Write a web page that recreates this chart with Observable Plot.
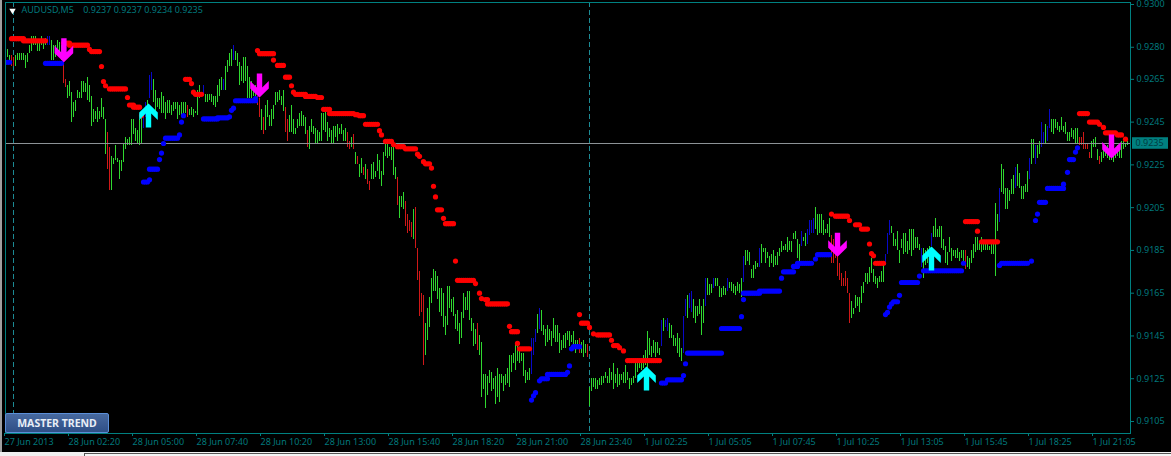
<!DOCTYPE html>
<html><head><meta charset="utf-8">
<script src="https://cdn.jsdelivr.net/npm/d3@7"></script>
<script src="https://cdn.jsdelivr.net/npm/@observablehq/plot@0.6"></script>
<style>
html,body{margin:0;padding:0;background:#000;overflow:hidden}
#wrap{position:relative;width:1171px;height:456px;background:#000;overflow:hidden}
#wrap svg{position:absolute;left:0;top:0;background:#000}
#edge{position:absolute;left:0;top:0;width:2px;height:456px;background:#a0a0a0}
#foot{position:absolute;left:0;top:452px;width:1171px;height:4px;background:#f0f0f0}
#box{position:absolute;left:84px;top:453px;width:1087px;height:3px;background:#f4f4f4;border-left:1px solid #555;border-top:1px solid #555}
#btn{position:absolute;left:5px;top:413px;width:102px;height:18px;border:1px solid #5b8fd8;border-radius:2px;background:linear-gradient(#47699f,#2f4f86);color:#e8eef6;font:bold 10.5px/18px "Noto Sans",sans-serif;text-align:center}
</style></head><body>
<div id="wrap"><div id="edge"></div><div id="foot"></div><div id="box"></div></div>
<script>
// Prices are in pips: 9235 means 0.9235. Each row below holds ten 5-minute bars [high, low].
const hiLo = [
[9282,9277],[9279,9275],[9276,9272],[9276,9271],[9275,9271],[9276,9271],[9277,9274],[9277,9274],[9277,9274],[9277,9274],
[9276,9270],[9277,9273],[9281,9277],[9285,9278],[9285,9281],[9285,9281],[9282,9278],[9282,9278],[9285,9281],[9282,9279],
[9284,9281],[9285,9281],[9285,9281],[9283,9274],[9281,9274],[9281,9275],[9283,9278],[9282,9276],[9281,9274],[9275,9263],
[9265,9261],[9262,9256],[9264,9257],[9259,9245],[9254,9247],[9255,9250],[9260,9256],[9259,9256],[9264,9256],[9264,9259],
[9263,9259],[9266,9255],[9262,9254],[9257,9243],[9251,9245],[9250,9246],[9252,9245],[9250,9246],[9256,9247],[9252,9246],
[9246,9230],[9240,9223],[9233,9213],[9229,9213],[9228,9225],[9234,9227],[9228,9226],[9227,9218],[9227,9222],[9235,9226],
[9238,9232],[9237,9234],[9238,9234],[9246,9234],[9246,9239],[9242,9236],[9241,9235],[9246,9234],[9247,9235],[9249,9242],
[9254,9247],[9255,9249],[9267,9256],[9268,9260],[9265,9254],[9260,9247],[9256,9252],[9256,9251],[9259,9249],[9257,9249],
[9254,9246],[9255,9249],[9255,9249],[9253,9248],[9254,9250],[9254,9251],[9254,9246],[9253,9248],[9254,9248],[9254,9249],
[9254,9249],[9253,9247],[9251,9248],[9252,9248],[9251,9247],[9250,9249],[9260,9248],[9262,9256],[9259,9257],[9262,9257],
[9258,9254],[9258,9254],[9258,9255],[9258,9254],[9257,9253],[9257,9252],[9262,9254],[9265,9257],[9266,9260],[9265,9260],
[9271,9260],[9274,9268],[9277,9271],[9279,9271],[9281,9274],[9278,9274],[9277,9271],[9273,9262],[9271,9264],[9275,9263],
[9275,9264],[9271,9256],[9266,9256],[9264,9256],[9262,9257],[9262,9257],[9257,9253],[9256,9247],[9251,9241],[9247,9239],
[9253,9241],[9255,9247],[9248,9243],[9251,9243],[9253,9246],[9259,9253],[9259,9254],[9260,9255],[9257,9253],[9260,9250],
[9252,9240],[9246,9236],[9248,9240],[9253,9240],[9246,9239],[9242,9239],[9246,9242],[9249,9243],[9250,9243],[9248,9243],
[9247,9239],[9241,9233],[9243,9232],[9246,9240],[9243,9239],[9242,9235],[9241,9235],[9240,9236],[9249,9236],[9249,9241],
[9250,9240],[9245,9236],[9242,9238],[9241,9235],[9243,9235],[9243,9238],[9244,9236],[9242,9239],[9244,9239],[9241,9236],
[9242,9236],[9240,9233],[9236,9232],[9238,9233],[9239,9232],[9231,9225],[9229,9225],[9225,9219],[9228,9221],[9224,9220],
[9225,9218],[9223,9216],[9217,9213],[9225,9218],[9226,9218],[9222,9219],[9230,9222],[9227,9218],[9222,9215],[9231,9220],
[9235,9229],[9235,9228],[9233,9229],[9233,9227],[9233,9220],[9224,9218],[9219,9206],[9210,9200],[9210,9205],[9212,9204],
[9208,9196],[9202,9193],[9199,9194],[9198,9191],[9204,9190],[9205,9186],[9186,9171],[9175,9154],[9165,9156],[9164,9131],
[9151,9136],[9158,9143],[9163,9149],[9172,9160],[9176,9166],[9175,9166],[9173,9162],[9167,9156],[9167,9154],[9165,9149],
[9154,9145],[9168,9150],[9168,9158],[9162,9156],[9163,9154],[9155,9148],[9157,9147],[9151,9141],[9156,9144],[9165,9153],
[9163,9157],[9166,9157],[9166,9152],[9153,9147],[9151,9140],[9148,9141],[9151,9138],[9145,9136],[9142,9116],[9127,9120],
[9127,9111],[9126,9117],[9129,9123],[9128,9119],[9125,9120],[9126,9113],[9130,9116],[9127,9114],[9127,9123],[9126,9119],
[9127,9122],[9130,9123],[9136,9121],[9136,9128],[9137,9132],[9141,9129],[9142,9133],[9138,9132],[9137,9133],[9137,9126],
[9129,9123],[9128,9124],[9130,9124],[9144,9127],[9144,9136],[9148,9142],[9155,9146],[9158,9148],[9157,9147],[9150,9145],
[9148,9140],[9150,9142],[9148,9143],[9147,9140],[9153,9144],[9150,9142],[9150,9142],[9146,9137],[9143,9138],[9145,9139],
[9146,9139],[9147,9143],[9147,9140],[9145,9142],[9147,9141],[9143,9137],[9143,9139],[9144,9137],[9142,9137],[9143,9135],
[9141,9137],[9141,9135],[9121,9112],[9125,9119],[9125,9121],[9125,9120],[9124,9120],[9125,9122],[9126,9122],[9126,9123],
[9128,9125],[9126,9123],[9130,9123],[9128,9124],[9132,9120],[9127,9123],[9130,9121],[9127,9122],[9127,9124],[9128,9123],
[9131,9123],[9128,9124],[9125,9120],[9125,9122],[9126,9123],[9132,9125],[9132,9128],[9134,9130],[9134,9129],[9136,9130],
[9138,9131],[9147,9130],[9144,9136],[9140,9135],[9143,9137],[9142,9135],[9142,9137],[9139,9136],[9152,9140],[9153,9147],
[9152,9149],[9153,9147],[9151,9144],[9150,9144],[9145,9140],[9144,9140],[9146,9137],[9144,9135],[9139,9133],[9154,9137],
[9162,9154],[9164,9153],[9165,9158],[9166,9156],[9162,9153],[9159,9151],[9159,9154],[9162,9155],[9159,9145],[9162,9151],
[9172,9159],[9172,9164],[9169,9164],[9169,9165],[9172,9167],[9172,9168],[9172,9168],[9168,9163],[9167,9163],[9168,9164],
[9167,9164],[9172,9166],[9170,9167],[9170,9166],[9169,9165],[9168,9164],[9170,9166],[9169,9165],[9172,9163],[9182,9170],
[9185,9178],[9185,9180],[9184,9178],[9176,9172],[9178,9172],[9180,9176],[9179,9177],[9186,9177],[9188,9179],[9186,9184],
[9186,9179],[9184,9181],[9182,9177],[9183,9179],[9185,9177],[9182,9178],[9184,9178],[9186,9182],[9189,9184],[9187,9185],
[9188,9185],[9191,9184],[9189,9185],[9189,9184],[9193,9190],[9194,9190],[9190,9181],[9188,9180],[9194,9187],[9191,9189],
[9193,9187],[9195,9188],[9199,9192],[9199,9193],[9200,9193],[9205,9195],[9202,9192],[9202,9193],[9202,9193],[9199,9192],
[9195,9193],[9197,9193],[9200,9191],[9192,9179],[9190,9179],[9187,9181],[9183,9173],[9179,9171],[9174,9168],[9172,9168],
[9175,9168],[9172,9165],[9165,9151],[9161,9153],[9158,9155],[9164,9158],[9163,9159],[9163,9156],[9168,9160],[9170,9165],
[9174,9170],[9174,9169],[9177,9170],[9181,9174],[9176,9170],[9173,9169],[9172,9167],[9173,9170],[9175,9170],[9178,9170],
[9183,9178],[9193,9183],[9199,9192],[9196,9193],[9193,9187],[9190,9187],[9194,9185],[9185,9179],[9190,9186],[9193,9183],
[9193,9184],[9189,9183],[9195,9185],[9195,9182],[9195,9185],[9191,9186],[9191,9186],[9188,9185],[9186,9177],[9186,9172],
[9185,9178],[9186,9179],[9187,9181],[9193,9187],[9196,9191],[9200,9191],[9195,9191],[9196,9191],[9196,9186],[9190,9185],
[9187,9179],[9184,9178],[9191,9184],[9186,9180],[9185,9182],[9185,9181],[9186,9181],[9184,9180],[9185,9181],[9185,9180],
[9185,9176],[9182,9177],[9181,9176],[9185,9179],[9188,9181],[9191,9184],[9191,9185],[9189,9185],[9191,9184],[9188,9185],
[9188,9185],[9188,9185],[9187,9185],[9188,9183],[9188,9183],[9207,9173],[9202,9194],[9214,9198],[9225,9212],[9223,9211],
[9214,9204],[9214,9204],[9213,9208],[9218,9211],[9220,9211],[9224,9214],[9225,9215],[9221,9214],[9215,9209],[9215,9209],
[9216,9212],[9222,9212],[9228,9218],[9237,9225],[9237,9228],[9234,9225],[9234,9228],[9236,9230],[9245,9233],[9240,9235],
[9244,9235],[9243,9236],[9251,9242],[9246,9240],[9246,9239],[9246,9242],[9245,9241],[9243,9240],[9247,9241],[9243,9240],
[9245,9239],[9240,9236],[9240,9236],[9242,9238],[9241,9237],[9242,9235],[9242,9235],[9238,9234],[9238,9234],[9240,9232],
[9235,9232],[9235,9232],[9231,9228],[9236,9228],[9237,9233],[9238,9233],[9232,9227],[9229,9225],[9231,9226],[9233,9228],
[9234,9229],[9234,9228],[9232,9227],[9232,9227],[9230,9226],[9232,9228],[9234,9229],[9235,9228],[9236,9228],[9236,9232],[9235,9233],[9236,9234]
];
const redBars = [3,4,29,30,51,52,91,126,127,129,140,141,151,171,172,174,176,179,181,182,196,200,201,202,203,205,206,207,208,209,236,287,291,413,414,415,416,417,418,419,420,421,422,480,537,538,539,540,541,542,547];
const blueBars = [21,22,69,70,72,73,99,109,114,263,264,265,267,328,330,331,339,340,342,343,350,354,361,369,377,398,401,402,403,404,440,441,442,458,463,497,505,512,515,518,519,521,522];
// Indicator levels: [first bar, last bar, price]
const redLevels = [[3,9,9284],[9,20,9283],[29,32,9282],[32,41,9281],[42,42,9279],[43,47,9278],[48,48,9271],[49,49,9264],[50,50,9262],[52,60,9260.5],[61,61,9256.5],[62,64,9253],[64,67,9252],[68,68,9248],
[90,92,9265],[93,93,9263],[94,94,9259],[95,98,9258],[126,126,9278.5],[127,134,9277],[134,134,9274],[136,139,9271.5],[140,142,9266],[143,143,9262],[144,144,9259],[145,150,9258],[150,155,9257],[156,158,9256.5],[159,162,9251],[162,174,9249],[175,176,9248.5],[177,179,9248],[180,180,9244],[181,186,9244],[187,187,9241],[188,188,9239],[190,193,9236],[194,194,9234.5],[196,199,9233.5],[200,205,9232.5],[206,206,9230],[207,207,9229],[209,209,9226.5],[210,212,9225.5],[213,213,9223.5],[214,214,9215],[215,215,9210],[216,218,9204],[219,219,9200],[220,224,9197.5],[225,225,9180],[226,234,9171],[235,235,9169.5],[237,237,9165],[238,238,9162.5],[240,241,9162],[241,251,9160],[252,252,9149.5],[253,256,9147],[256,256,9141.5],[257,262,9139],
[287,287,9155],[288,291,9151],[292,292,9149],[294,294,9146],[296,302,9145.5],[303,303,9143],[304,306,9140.5],[307,307,9139.5],[309,309,9138],[311,327,9133.5],
[413,413,9202],[415,421,9201],[422,422,9199],[425,427,9197],[428,431,9195],[432,432,9188],[433,433,9183.5],[434,434,9182.5],[435,439,9179],[480,486,9198.5],[486,486,9194],[488,496,9189],[537,541,9249],[542,546,9245],[547,547,9244],[549,549,9242.5],[550,555,9240],[556,558,9239],[560,560,9237]];
const blueLevels = [[0,2,9273],[20,28,9272.5],[69,71,9217],[72,72,9218],[72,76,9223],[77,77,9227.5],[78,78,9230.5],[79,79,9235],[80,86,9237.5],[87,87,9239],[88,88,9245],[89,89,9248],[99,106,9246.5],[106,111,9247],[112,112,9247.5],[113,113,9250.5],[114,114,9251.5],[115,125,9255],[125,125,9256],
[263,263,9115],[264,264,9117],[265,265,9118.5],[267,267,9124],[268,271,9125],[271,280,9127],[281,281,9128],[282,282,9131],[283,283,9139],[284,287,9140],[328,330,9123],[331,338,9124.5],[339,339,9126.5],[340,340,9132],[341,358,9137],[358,367,9148.5],[368,368,9154],[369,369,9162],[369,377,9165],[377,387,9166],[388,388,9172],[389,394,9175],[394,396,9177.5],[396,403,9179],[405,405,9181],[406,412,9183],
[440,440,9155],[441,441,9156],[442,442,9158.5],[443,443,9160],[444,446,9161],[447,447,9164],[448,456,9170],[457,457,9173],[459,478,9175.5],[479,479,9179],[497,497,9178],[498,511,9179],[513,513,9180],[515,515,9199],[516,516,9202],[517,520,9207.5],[521,529,9214],[529,529,9216],[531,531,9221.5],[532,534,9227.5],[535,535,9231],[536,536,9233]];
const sellArrows = [[29.2,9273],[127,9256.5],[416,9182],[553,9228]];
const buyArrows = [[71.5,9253.7],[320.5,9130.7],[463,9186.8]];
const separators = [4,292];
const lastPrice = 9235;
const priceTicks = [9300,9280,9265,9245,9225,9205,9185,9165,9145,9125,9105];
const timeTicks = [0,32,64,96,128,160,192,224,256,288,320,352,384,416,448,480,512,544];
const timeLabels = ["27 Jun 2013","28 Jun 02:20","28 Jun 05:00","28 Jun 07:40","28 Jun 10:20","28 Jun 13:00","28 Jun 15:40","28 Jun 18:20","28 Jun 21:00","28 Jun 23:40","1 Jul 02:25","1 Jul 05:05","1 Jul 07:45","1 Jul 10:25","1 Jul 13:05","1 Jul 15:45","1 Jul 18:25","1 Jul 21:05"];
const chartTitle = "AUDUSD,M5\u00a0\u00a0\u00a0\u00a00.9237 0.9237 0.9234 0.9235";
const buttonLabel = "MASTER TREND";

const TEAL = "#008080", TEXT = "#00787c", FONT = "'Noto Sans', sans-serif";
const redSet = new Set(redBars), blueSet = new Set(blueBars);
const bars = hiLo.map(([high, low], i) => ({i, high, low, tone: redSet.has(i) ? "#d01818" : blueSet.has(i) ? "#0808c8" : "#2fd82f"}));
const expand = levels => levels.flatMap(([a, b, price]) => d3.range(a, b + 1).map(i => ({i, price})));

// Chevron arrows with the tip on the data point
const downArrow = {draw(c){const p=[[0,0],[-9.3,-9],[-9.3,-16.5],[-2.7,-10],[-2.7,-24],[2.7,-24],[2.7,-10],[9.3,-16.5],[9.3,-9]];
  p.forEach(([x,y],k)=>k?c.lineTo(x,y):c.moveTo(x,y));c.closePath();}};
const upArrow = {draw(c){const p=[[0,0],[-9.3,9],[-9.3,16.5],[-2.7,10],[-2.7,24],[2.7,24],[2.7,10],[9.3,16.5],[9.3,9]];
  p.forEach(([x,y],k)=>k?c.lineTo(x,y):c.moveTo(x,y));c.closePath();}};

const chart = Plot.plot({
  width: 1171, height: 456,
  marginLeft: 5, marginRight: 41, marginTop: 2, marginBottom: 23,
  style: {background: "#000", fontFamily: FONT, fontSize: "9px", color: TEXT},
  x: {type: "linear", domain: [0, 561], range: [5, 1127]},
  y: {type: "linear", domain: [9105, 9300], range: [421, 4]},
  marks: [
    Plot.ruleX(separators, {x: d => d, stroke: "#1c8a94", strokeDasharray: "5,3", strokeWidth: 1}),
    Plot.ruleX(bars, {x: "i", y1: "low", y2: "high", stroke: "tone", strokeWidth: 1, shapeRendering: "crispEdges"}),
    Plot.ruleY([lastPrice], {y: d => d, stroke: "#8c9296", strokeWidth: 1}),
    Plot.dot(expand(redLevels), {x: "i", y: "price", r: 2.6, fill: "#ff0000", clip: true}),
    Plot.dot(expand(blueLevels), {x: "i", y: "price", r: 2.6, fill: "#0000ff", clip: true}),
    Plot.dot(sellArrows, {x: d => d[0], y: d => d[1], symbol: downArrow, fill: "#ff00ff"}),
    Plot.dot(buyArrows, {x: d => d[0], y: d => d[1], symbol: upArrow, fill: "#00ffff"}),
    Plot.frame({stroke: TEAL, strokeWidth: 1}),
    Plot.axisY(priceTicks, {anchor: "right", tickSize: 3, tickPadding: 3, stroke: TEAL, fill: TEXT, label: null, tickFormat: d => (d / 10000).toFixed(4), fontSize: 9}),
    Plot.axisX(timeTicks, {anchor: "bottom", tickSize: 3, tickPadding: 2, stroke: TEAL, fill: TEXT, label: null, textAnchor: "start", dx: -1, tickFormat: d => timeLabels[timeTicks.indexOf(d)], fontSize: 9}),
    Plot.rect([lastPrice], {x1: () => 563.5, x2: () => 581.5, y1: d => d + 2.7, y2: d => d - 2.7, fill: "#008080"}),
    Plot.text([lastPrice], {x: () => 565, y: d => d, text: d => (d / 10000).toFixed(4), textAnchor: "start", fill: "#003c40", fontSize: 9}),
    Plot.text([chartTitle], {frameAnchor: "top-left", dx: 16, dy: 4, text: d => d, textAnchor: "start", fill: TEXT, fontSize: 9}),
    Plot.dot([0], {frameAnchor: "top-left", dx: 7, dy: 8, symbol: "triangle", rotate: 180, r: 2.4, fill: "#ffffff"})
  ]
});
const wrap = document.getElementById("wrap");
wrap.insertBefore(chart, wrap.firstChild);
const btn = document.createElement("div");
btn.id = "btn"; btn.textContent = buttonLabel;
wrap.appendChild(btn);
</script>
</body></html>
